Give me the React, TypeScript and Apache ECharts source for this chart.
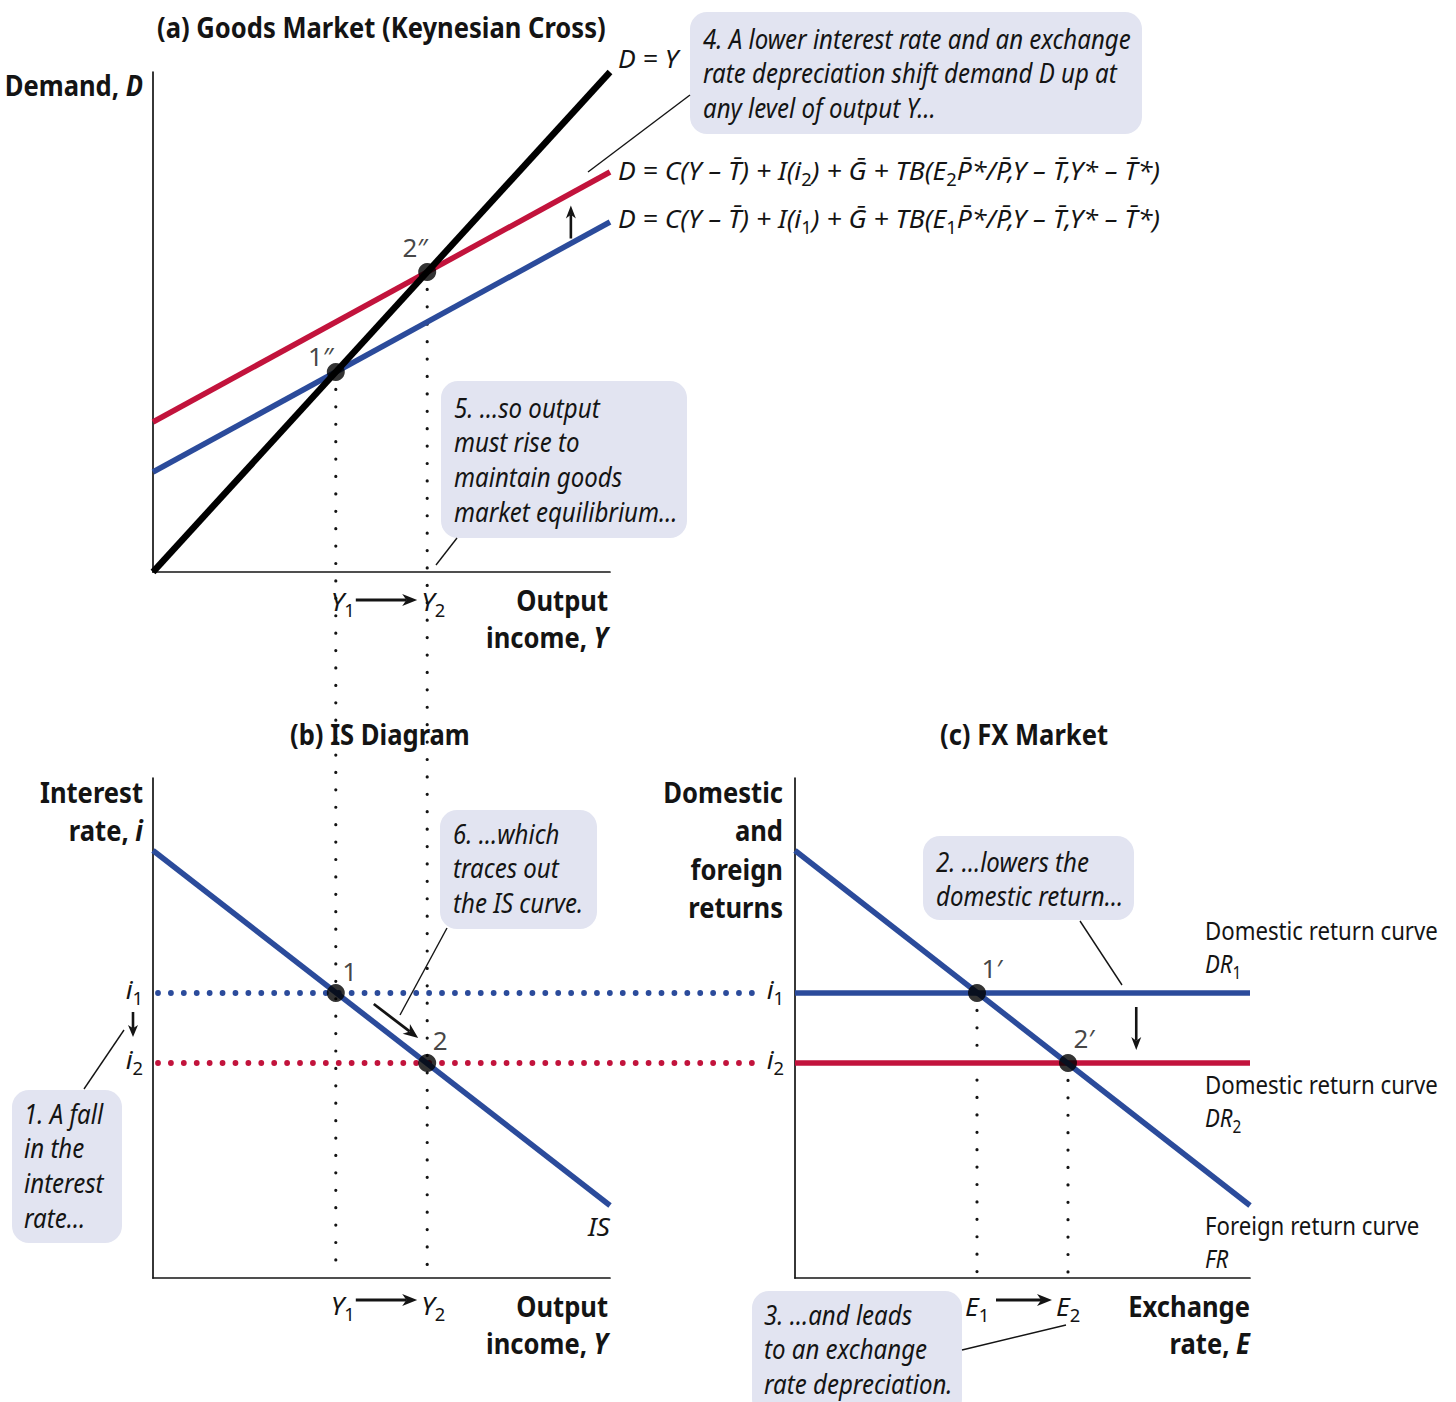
import React, { useEffect, useRef } from "react";
import * as echarts from "echarts";

// ---- (a) Goods market: Keynesian cross ----
const outputAxis = [0, 100];
const demandAxis = [0, 100];
const demandEqualsOutput = [[0, 0], [100, 100]]; // D = Y
const demandBefore = [[0, 20], [100, 70]]; // D at i1, E1
const demandAfter = [[0, 30], [100, 80]]; // D at i2, E2
const outputLevels = [40, 60]; // Y1, Y2
const goodsEquilibria = [[40, 40], [60, 60]];
const goodsPointNames = ["1″", "2″"];

// ---- (b) IS diagram ----
const rateAxis = [0, 100];
const isCurve = [[0, 85.5], [100, 14.5]];
const interestRates = [57, 43]; // i1, i2
const isEquilibria = [[40, 57], [60, 43]];
const isPointNames = ["1", "2"];

// ---- (c) FX market ----
const exchangeAxis = [0, 100];
const returnAxis = [0, 100];
const foreignReturn = [[0, 85.5], [100, 14.5]];
const domesticReturn1 = [[0, 57], [100, 57]];
const domesticReturn2 = [[0, 43], [100, 43]];
const exchangeRates = [40, 60]; // E1, E2
const fxEquilibria = [[40, 57], [60, 43]];
const fxPointNames = ["1′", "2′"];

const FONT = '"Noto Sans", "DejaVu Sans", sans-serif';
const INK = "#141414";
const BLUE = "#2b4b9b";
const RED = "#c2133c";
const NOTE_FILL = "#e2e4f1";

const GRIDS = [
  { left: 153, top: 72, width: 457, height: 500 },
  { left: 153, top: 778, width: 457, height: 500 },
  { left: 795, top: 778, width: 455, height: 500 },
];

const RICH: Record<string, any> = {
  b: { fontSize: 29, fontWeight: "bold", fontStyle: "normal", lineHeight: 38 },
  bi: { fontSize: 29, fontWeight: "bold", fontStyle: "italic", lineHeight: 38 },
  r: { fontSize: 26, fontWeight: "normal", fontStyle: "normal", lineHeight: 36 },
  i: { fontSize: 26, fontWeight: "normal", fontStyle: "italic", lineHeight: 36 },
  s: { fontSize: 18, fontWeight: "normal", fontStyle: "normal", lineHeight: 18, verticalAlign: "bottom" },
  n: { fontSize: 27, fontWeight: "normal", fontStyle: "italic", lineHeight: 27 },
};
Object.keys(RICH).forEach((k) => {
  RICH[k].fontFamily = FONT;
  RICH[k].fill = INK;
  RICH[k].color = INK;
});

type Seg = [string, string];

const TB = "T\u0304";
const PB = "P\u0304";
const eqAfter: Seg[] = [
  ["i", `D = C(Y – ${TB}) + I(i`], ["s", "2"],
  ["i", `) + G\u0304 + TB(E`], ["s", "2"],
  ["i", `${PB}*/${PB},Y – ${TB},Y* – ${TB}*)`],
];
const eqBefore: Seg[] = [
  ["i", `D = C(Y – ${TB}) + I(i`], ["s", "1"],
  ["i", `) + G\u0304 + TB(E`], ["s", "1"],
  ["i", `${PB}*/${PB},Y – ${TB},Y* – ${TB}*)`],
];

const NOTE_STEP = 34.7;
const NOTES = [
  { box: [690, 12, 452, 122], x: 703, y0: 38, lines: ["4. A lower interest rate and an exchange", "rate depreciation shift demand D up at", "any level of output Y…"] },
  { box: [441, 381, 246, 157], x: 454, y0: 407, lines: ["5. …so output", "must rise to", "maintain goods", "market equilibrium…"] },
  { box: [440, 810, 157, 119], x: 453, y0: 833, lines: ["6. …which", "traces out", "the IS curve."] },
  { box: [12, 1090, 110, 153], x: 24, y0: 1113, lines: ["1. A fall", "in the", "interest", "rate…"] },
  { box: [923, 836, 211, 84], x: 936, y0: 861, lines: ["2. …lowers the", "domestic return…"] },
  { box: [752, 1291, 210, 125], x: 764, y0: 1314, lines: ["3. …and leads", "to an exchange", "rate depreciation."] },
];

const CALLOUTS = [
  [690, 95, 588, 172],
  [457, 538, 436, 565],
  [447, 928, 400, 1015],
  [84, 1089, 124, 1030],
  [1080, 921, 1122, 985],
  [962, 1350, 1066, 1325],
];

function axis(gridIndex: number, range: number[]) {
  return {
    gridIndex, type: "value", min: range[0], max: range[1],
    axisLine: { show: true, onZero: false, lineStyle: { color: INK, width: 1.7 } },
    axisTick: { show: false }, axisLabel: { show: false }, splitLine: { show: false },
  };
}

function curve(g: number, data: number[][], color: string, width: number) {
  return {
    type: "line", xAxisIndex: g, yAxisIndex: g, data, symbol: "none", silent: true,
    lineStyle: { color, width, cap: "butt" }, z: 2,
  };
}

function points(g: number, data: number[][], names: string[], offsets: number[][]) {
  return {
    type: "scatter", xAxisIndex: g, yAxisIndex: g, symbolSize: 18, z: 4, silent: true,
    itemStyle: { color: "#000" },
    data: data.map((p, k) => ({ value: p, label: { offset: offsets[k] } })),
    label: {
      show: true, position: "inside", color: INK, fontSize: 26, fontFamily: FONT,
      formatter: (p: any) => names[p.dataIndex],
    },
  };
}

export default function App() {
  const ref = useRef<HTMLDivElement>(null);

  useEffect(() => {
    const chart = echarts.init(ref.current!, undefined, { renderer: "svg" });
    chart.setOption({
      animation: false,
      backgroundColor: "#ffffff",
      grid: GRIDS,
      xAxis: [axis(0, outputAxis), axis(1, outputAxis), axis(2, exchangeAxis)],
      yAxis: [axis(0, demandAxis), axis(1, rateAxis), axis(2, returnAxis)],
      series: [
        curve(0, demandBefore, BLUE, 5.5),
        curve(0, demandAfter, RED, 5.5),
        curve(0, demandEqualsOutput, "#000", 6.5),
        curve(1, isCurve, BLUE, 5.5),
        curve(2, domesticReturn1, BLUE, 5.5),
        curve(2, domesticReturn2, RED, 5.5),
        curve(2, foreignReturn, BLUE, 5.5),
        points(0, goodsEquilibria, goodsPointNames, [[-15, -16], [-12, -25]]),
        points(1, isEquilibria, isPointNames, [[14, -22], [13, -23]]),
        points(2, fxEquilibria, fxPointNames, [[15, -25], [16, -25]]),
      ],
    });

    const P = (g: number, pt: number[]) => chart.convertToPixel({ gridIndex: g }, pt) as number[];

    // text measuring, used to condense each text family to the drawing's letter widths
    const ctx = document.createElement("canvas").getContext("2d")!;
    const segWidth = (segs: Seg[]) =>
      segs.reduce((s, [k, t]) => {
        const st = RICH[k];
        ctx.font = `${st.fontStyle} ${st.fontWeight} ${st.fontSize}px ${FONT}`;
        return s + ctx.measureText(t).width;
      }, 0);
    const SCALE: Record<string, number> = {
      bold: 449 / segWidth([["b", "(a) Goods Market (Keynesian Cross)"]]),
      note: 428 / segWidth([["n", "4. A lower interest rate and an exchange"]]),
      plain: 233 / segWidth([["r", "Domestic return curve"]]),
      eq: 542 / segWidth(eqAfter),
    };

    const els: any[] = [];
    const line = (x1: number, y1: number, x2: number, y2: number, style: any, z = 1) =>
      els.push({ type: "line", z, silent: true, shape: { x1, y1, x2, y2 }, style });
    const text = (x: number, y: number, segs: Seg[], align: string, cls: string) =>
      els.push({
        type: "text", x, y, z: 20, silent: true, scaleX: SCALE[cls],
        style: {
          text: segs.map(([k, t]) => `{${k}|${t}}`).join(""),
          rich: RICH, fill: INK, font: `24px ${FONT}`,
          align, textAlign: align, verticalAlign: "middle", textVerticalAlign: "middle",
        },
      });
    const arrow = (x1: number, y1: number, x2: number, y2: number, head = 15, half = 6, lw = 2.8) => {
      const L = Math.hypot(x2 - x1, y2 - y1);
      const ux = (x2 - x1) / L, uy = (y2 - y1) / L, nx = -uy, ny = ux;
      const bx = x2 - ux * head, by = y2 - uy * head;
      const mx = x2 - ux * head * 0.72, my = y2 - uy * head * 0.72;
      line(x1, y1, mx, my, { stroke: INK, lineWidth: lw }, 10);
      els.push({
        type: "polygon", z: 10, silent: true,
        shape: { points: [[x2, y2], [bx + nx * half, by + ny * half], [mx, my], [bx - nx * half, by - ny * half]] },
        style: { fill: INK },
      });
    };

    // dotted guides
    const blackDots = { stroke: INK, lineWidth: 3.2, lineDash: [0.01, 17.4], lineCap: "round" };
    outputLevels.forEach((y, k) => {
      const a = P(0, goodsEquilibria[k]);
      const b = P(1, [y, 0]);
      line(a[0], a[1], b[0], b[1] - 4, blackDots);
    });
    interestRates.forEach((r, k) => {
      const a = P(1, [0, r]);
      const c = P(2, [0, r]);
      line(a[0] + 5, a[1], c[0] - 33, a[1], {
        stroke: k === 0 ? BLUE : RED, lineWidth: 5.8, lineDash: [0.01, 12.9], lineCap: "round",
      });
    });
    exchangeRates.forEach((e, k) => {
      const a = P(2, fxEquilibria[k]);
      const b = P(2, [e, 0]);
      line(a[0], a[1], b[0], b[1] - 4, blackDots);
    });

    // notes with their pointers
    NOTES.forEach((n) => {
      const [x, y, w, h] = n.box;
      els.push({ type: "rect", z: 0, silent: true, shape: { x, y, width: w, height: h, r: 17 }, style: { fill: NOTE_FILL } });
      n.lines.forEach((l, k) => text(n.x, n.y0 + k * NOTE_STEP, [["n", l]], "left", "note"));
    });
    CALLOUTS.forEach(([x1, y1, x2, y2]) => line(x1, y1, x2, y2, { stroke: INK, lineWidth: 1.4 }, 6));

    // panel titles and axis names
    text(157, 27, [["b", "(a) Goods Market (Keynesian Cross)"]], "left", "bold");
    text(290, 734, [["b", "(b) IS Diagram"]], "left", "bold");
    text(940, 734, [["b", "(c) FX Market"]], "left", "bold");
    text(143, 85, [["b", "Demand, "], ["bi", "D"]], "right", "bold");
    text(608, 600, [["b", "Output"]], "right", "bold");
    text(608, 637, [["b", "income, "], ["bi", "Y"]], "right", "bold");
    text(608, 1306, [["b", "Output"]], "right", "bold");
    text(608, 1343, [["b", "income, "], ["bi", "Y"]], "right", "bold");
    text(143, 792, [["b", "Interest"]], "right", "bold");
    text(143, 830, [["b", "rate, "], ["bi", "i"]], "right", "bold");
    text(783, 792, [["b", "Domestic"]], "right", "bold");
    text(783, 830, [["b", "and"]], "right", "bold");
    text(783, 869, [["b", "foreign"]], "right", "bold");
    text(783, 907, [["b", "returns"]], "right", "bold");
    text(1250, 1306, [["b", "Exchange"]], "right", "bold");
    text(1250, 1343, [["b", "rate, "], ["bi", "E"]], "right", "bold");

    // curve labels
    const top45 = P(0, demandEqualsOutput[1]);
    text(top45[0] + 8, top45[1] - 14, [["i", "D = Y"]], "left", "eq");
    const redEnd = P(0, demandAfter[1]);
    const blueEnd = P(0, demandBefore[1]);
    text(redEnd[0] + 8, redEnd[1] - 2, eqAfter, "left", "eq");
    text(blueEnd[0] + 8, blueEnd[1] - 4, eqBefore, "left", "eq");
    const isEnd = P(1, isCurve[1]);
    text(isEnd[0], isEnd[1] + 21, [["i", "IS"]], "right", "eq");
    const dr1 = P(2, domesticReturn1[1]);
    const dr2 = P(2, domesticReturn2[1]);
    const frEnd = P(2, foreignReturn[1]);
    text(dr1[0] - 45, dr1[1] - 63, [["r", "Domestic return curve"]], "left", "plain");
    text(dr1[0] - 45, dr1[1] - 30, [["i", "DR"], ["s", "1"]], "left", "plain");
    text(dr2[0] - 45, dr2[1] + 21, [["r", "Domestic return curve"]], "left", "plain");
    text(dr2[0] - 45, dr2[1] + 54, [["i", "DR"], ["s", "2"]], "left", "plain");
    text(dr2[0] - 45, frEnd[1] + 19, [["r", "Foreign return curve"]], "left", "plain");
    text(dr2[0] - 45, frEnd[1] + 52, [["i", "FR"]], "left", "plain");

    // shift arrow between the two demand curves
    const upX = P(0, [91, 0])[0];
    const upFrom = P(0, [91, demandBefore[0][1] + (demandBefore[1][1] - demandBefore[0][1]) * 0.91]);
    arrow(upX + 2, upFrom[1] - 6, upX + 2, upFrom[1] - 39, 13, 5, 2.6);

    // output labels under panels (a) and (b)
    [[0, 29, 28], [1, 27, 22]].forEach(([g, ly, ay]) => {
      const y1 = P(g, [outputLevels[0], 0]);
      const y2 = P(g, [outputLevels[1], 0]);
      text(y1[0] - 5, y1[1] + ly, [["i", "Y"], ["s", "1"]], "left", "eq");
      text(y2[0] - 6, y2[1] + ly, [["i", "Y"], ["s", "2"]], "left", "eq");
      arrow(y1[0] + 20, y1[1] + ay, y2[0] - 10, y2[1] + ay);
    });

    // exchange rate labels under panel (c)
    const e1 = P(2, [exchangeRates[0], 0]);
    const e2 = P(2, [exchangeRates[1], 0]);
    text(e1[0] - 12, e1[1] + 28, [["i", "E"], ["s", "1"]], "left", "eq");
    text(e2[0] - 12, e2[1] + 28, [["i", "E"], ["s", "2"]], "left", "eq");
    arrow(e1[0] + 19, e1[1] + 22, e2[0] - 16, e2[1] + 22);

    // interest rate labels beside panels (b) and (c)
    [1, 2].forEach((g) => {
      interestRates.forEach((r, k) => {
        const p = P(g, [0, r]);
        text(p[0] - (g === 1 ? 10 : 11), p[1] - 4, [["i", "i"], ["s", String(k + 1)]], "right", "eq");
      });
    });
    const iA = P(1, [0, interestRates[0]]);
    const iB = P(1, [0, interestRates[1]]);
    arrow(iA[0] - 20, iA[1] + 19, iA[0] - 20, iB[1] - 26, 12, 5, 2.6);

    // movement along the IS curve
    const m1 = P(1, isEquilibria[0]);
    const m2 = P(1, isEquilibria[1]);
    arrow(m1[0] + 38, m1[1] + 11, m2[0] - 9, m2[1] - 25, 15, 6, 2.8);

    // fall of the domestic return
    const dX = P(2, [75, 0])[0];
    arrow(dX, dr1[1] + 14, dX, dr2[1] - 13, 13, 5, 2.6);

    chart.setOption({ graphic: { elements: els } });
    return () => chart.dispose();
  }, []);

  return (
    <div
      ref={ref}
      style={{ position: "absolute", left: 0, top: 0, width: 1456, height: 1402, background: "#fff" }}
    />
  );
}
